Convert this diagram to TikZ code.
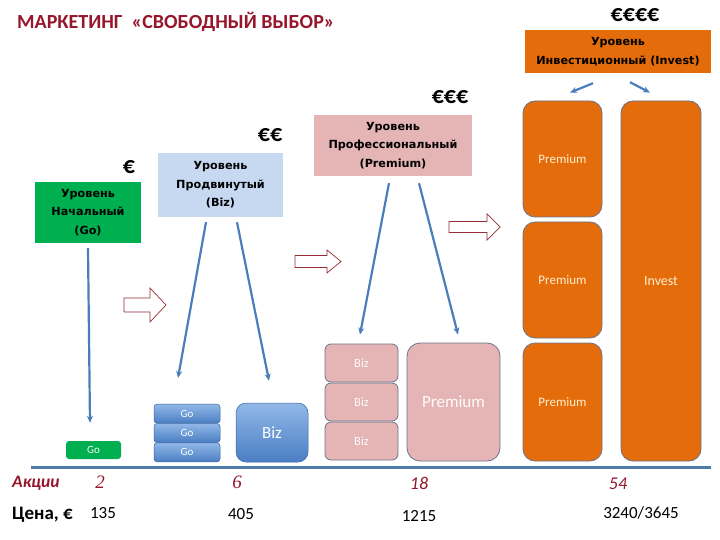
\documentclass[tikz,border=0pt]{standalone}
\usepackage{fontspec}
\setmainfont{Carlito}
\newfontfamily\boxfont{DejaVu Sans}
\newfontfamily\numserif{Liberation Serif}
\usetikzlibrary{arrows.meta}
\definecolor{titlered}{RGB}{150,22,44}
\definecolor{orangeF}{RGB}{228,108,10}
\definecolor{pinkF}{RGB}{229,180,180}
\definecolor{lightblueF}{RGB}{198,217,241}
\definecolor{greenF}{RGB}{0,176,80}
\definecolor{connblue}{RGB}{74,126,187}
\definecolor{axisblue}{RGB}{79,125,170}
\definecolor{arrred}{RGB}{149,45,53}
\definecolor{edgegrey}{RGB}{105,115,140}
\definecolor{blueTop}{RGB}{145,184,232}
\definecolor{blueBot}{RGB}{74,126,195}
\definecolor{lighttext}{RGB}{255,240,205}
\tikzset{
  header/.style={inner sep=0pt, align=center, text=black,
    font=\boxfont\bfseries\fontsize{11.2}{18.5}\selectfont},
  euro/.style={inner sep=0pt, font=\bfseries\fontsize{24}{24}\selectfont},
  conn/.style={draw=connblue, line width=2.2pt, -{Stealth[length=7pt,width=6pt]}},
  barr/.style={draw=arrred, fill=white, line width=0.7pt, line join=miter},
  orangebox/.style={fill=orangeF, draw=edgegrey, line width=0.8pt, rounded corners=12pt,
    inner sep=0pt, text=lighttext, font=\fontsize{13}{13}\selectfont},
  pinkbox/.style={fill=pinkF, draw=edgegrey, line width=0.8pt, inner sep=0pt,
    text=white!94!pink},
  bluebox/.style={top color=blueTop, bottom color=blueBot, draw=blueBot!80!black,
    line width=0.5pt, inner sep=0pt, text=white},
  redlab/.style={inner sep=0pt, text=titlered},
  blacklab/.style={inner sep=0pt, text=black},
  pics/barrow/.style args={#1/#2/#3/#4}{code={
    \draw[barr] (0,-#4)--(#1-#2,-#4)--(#1-#2,-#3)--(#1,0)--(#1-#2,#3)--(#1-#2,#4)--(0,#4)--cycle;}}
}
\begin{document}
\begin{tikzpicture}[x=1pt,y=-1pt]
\useasboundingbox (0,0) rectangle (720,540);
% title
\node[anchor=west, inner sep=0pt, text=titlered, font=\bfseries\fontsize{20}{20}\selectfont]
  (title) at (17,22) {МАРКЕТИНГ\ \ «СВОБОДНЫЙ ВЫБОР»};
% euro signs
\node[euro] (e4) at (635,15) {€€€€};
\node[euro] (e3) at (450,97) {€€€};
\node[euro] (e2) at (270,135) {€€};
\node[euro] (e1) at (129,167) {€};
% level headers
\node[header, fill=orangeF, minimum width=186pt, minimum height=43pt] (invhead) at (618,51.5)
  {Уровень\\Инвестиционный (Invest)};
\node[header, fill=pinkF, minimum width=158pt, minimum height=61pt] (premhead) at (393,145.5)
  {Уровень\\Профессиональный\\(Premium)};
\node[header, fill=lightblueF, minimum width=125pt, minimum height=64pt] (bizhead) at (220.5,185)
  {Уровень\\Продвинутый\\(Biz)};
\node[header, fill=greenF, minimum width=106pt, minimum height=61pt] (gohead) at (88,212.5)
  {Уровень\\Начальный\\(Go)};
% orange column
\node[orangebox, minimum width=79pt, minimum height=116pt] (p1) at (562.5,159) {Premium};
\node[orangebox, minimum width=79pt, minimum height=116pt] (p2) at (562.5,280) {Premium};
\node[orangebox, minimum width=79pt, minimum height=118pt] (p3) at (562.5,402) {Premium};
\node[orangebox, minimum width=80pt, minimum height=360pt, font=\fontsize{14}{14}\selectfont] (inv) at (661,281) {Invest};
% pink
\node[pinkbox, rounded corners=6pt, minimum width=73pt, minimum height=38pt, font=\fontsize{12.5}{12.5}\selectfont] (pb1) at (361.5,363) {Biz};
\node[pinkbox, rounded corners=6pt, minimum width=73pt, minimum height=38pt, font=\fontsize{12.5}{12.5}\selectfont] (pb2) at (361.5,402) {Biz};
\node[pinkbox, rounded corners=6pt, minimum width=73pt, minimum height=38pt, font=\fontsize{12.5}{12.5}\selectfont] (pb3) at (361.5,441) {Biz};
\node[pinkbox, rounded corners=13pt, minimum width=93pt, minimum height=118pt, font=\fontsize{17}{17}\selectfont] (pbig) at (453.5,402) {Premium};
% blue
\node[bluebox, rounded corners=3pt, minimum width=66pt, minimum height=19pt, font=\fontsize{11}{11}\selectfont] (g1) at (187,413.7) {Go};
\node[bluebox, rounded corners=3pt, minimum width=66pt, minimum height=19pt, font=\fontsize{11}{11}\selectfont] (g2) at (187,433) {Go};
\node[bluebox, rounded corners=3pt, minimum width=66pt, minimum height=19pt, font=\fontsize{11}{11}\selectfont] (g3) at (187,452.3) {Go};
\node[bluebox, rounded corners=10pt, minimum width=72pt, minimum height=59pt, font=\fontsize{17}{17}\selectfont] (bbiz) at (272,432.5) {Biz};
% green
\node[fill=greenF, rounded corners=3pt, inner sep=0pt, minimum width=55pt, minimum height=18pt,
  text=white, font=\fontsize{11}{11}\selectfont] (gbox) at (93.5,450) {Go};
% connectors
\draw[conn] ([yshift=-5pt]gohead.south) -- ([xshift=-3.5pt,yshift=18pt]gbox.north);
\draw[conn] ([xshift=-14.5pt,yshift=-5pt]bizhead.south) -- ([xshift=-9pt,yshift=26pt]g1.north);
\draw[conn] ([xshift=16.5pt,yshift=-5pt]bizhead.south) -- ([xshift=-3pt,yshift=22pt]bbiz.north);
\draw[conn] ([xshift=-4pt,yshift=-7pt]premhead.south) -- ([xshift=-1.5pt,yshift=9pt]pb1.north);
\draw[conn] ([xshift=26pt,yshift=-7pt]premhead.south) -- ([xshift=4.5pt,yshift=8pt]pbig.north);
\draw[conn] ([xshift=-25pt,yshift=-10pt]invhead.south) -- ([xshift=7.5pt,yshift=8pt]p1.north);
\draw[conn] ([xshift=12pt,yshift=-9pt]invhead.south) -- ([xshift=-11pt,yshift=8pt]inv.north);
% block arrows
\pic at (124,305) {barrow=42/16/17/7};
\pic at (295,261.5) {barrow=46/14/11.5/6};
\pic at (449,227) {barrow=51/13/13/5.5};
% axis
\coordinate (axL) at (31,467);
\coordinate (axR) at (711,467);
\draw[axisblue, line width=3pt] (axL) -- (axR);
% bottom labels
\node[redlab, anchor=west, font=\bfseries\itshape\fontsize{17.5}{17.5}\selectfont] (akc) at (12,483) {Акции};
\node[redlab, font=\numserif\itshape\fontsize{19}{19}\selectfont] (n2) at (100,482) {2};
\node[redlab, font=\numserif\itshape\fontsize{19}{19}\selectfont] (n6) at (237,482) {6};
\node[redlab, font=\itshape\fontsize{18}{18}\selectfont] (n18) at (419,483) {18};
\node[redlab, font=\itshape\fontsize{18}{18}\selectfont] (n54) at (618,484) {54};
\node[blacklab, anchor=west, font=\bfseries\fontsize{19}{19}\selectfont] (price) at (12,515) {Цена, €};
\node[blacklab, font=\fontsize{17}{17}\selectfont] (c1) at (103,513) {135};
\node[blacklab, font=\fontsize{17}{17}\selectfont] (c2) at (241,514) {405};
\node[blacklab, font=\fontsize{17}{17}\selectfont] (c3) at (419,516) {1215};
\node[blacklab, font=\fontsize{17}{17}\selectfont] (c4) at (641,513) {3240/3645};
\end{tikzpicture}
\end{document}
